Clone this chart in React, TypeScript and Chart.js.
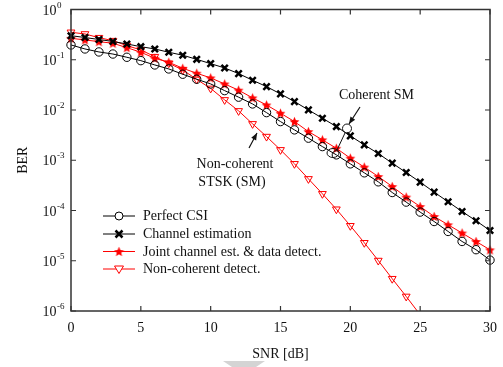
import React, { useEffect, useRef } from "react";
import { Chart, registerables } from "chart.js";

Chart.register(...registerables);

const snr = [0, 1, 2, 3, 4, 5, 6, 7, 8, 9, 10, 11, 12, 13, 14, 15, 16, 17, 18, 19, 20, 21, 22, 23, 24, 25, 26, 27, 28, 29, 30];

const perfectCSI = [0.197, 0.164, 0.143, 0.13, 0.112, 0.096, 0.0788, 0.0656, 0.0515, 0.041, 0.033, 0.0243, 0.018, 0.0132, 8.87e-3, 5.88e-3, 4.02e-3, 2.75e-3, 1.87e-3, 1.28e-3, 8.48e-4, 5.62e-4, 3.72e-4, 2.28e-4, 1.47e-4, 9.3e-5, 6.04e-5, 3.83e-5, 2.42e-5, 1.66e-5, 1.03e-5];

const channelEst = [0.301, 0.277, 0.253, 0.231, 0.206, 0.182, 0.164, 0.141, 0.123, 0.102, 0.0836, 0.0687, 0.053, 0.0391, 0.0292, 0.0209, 0.0147, 0.01004, 6.87e-3, 4.68e-3, 3.06e-3, 2.02e-3, 1.36e-3, 8.75e-4, 5.69e-4, 3.67e-4, 2.32e-4, 1.49e-4, 9.55e-5, 6.24e-5, 4.0e-5];

const jointEst = [0.267, 0.248, 0.229, 0.213, 0.174, 0.141, 0.107, 0.0892, 0.0677, 0.0539, 0.0435, 0.033, 0.0248, 0.0174, 0.0126, 8.63e-3, 5.88e-3, 3.72e-3, 2.55e-3, 1.73e-3, 1.1e-3, 7.3e-4, 4.74e-4, 3.0e-4, 1.85e-4, 1.2e-4, 7.6e-5, 5.2e-5, 3.56e-5, 2.42e-5, 1.65e-5];

const nonCoherent = [0.352, 0.326, 0.275, 0.24, 0.191, 0.157, 0.115, 0.0852, 0.0627, 0.0406, 0.0269, 0.0159, 9.6e-3, 5.3e-3, 2.96e-3, 1.61e-3, 8.5e-4, 4.26e-4, 2.15e-4, 1.06e-4, 4.97e-5, 2.28e-5, 1.01e-5, 4.39e-6, 1.95e-6, 8.4e-7];

const seriesNames = ["Perfect CSI", "Channel estimation", "Joint channel est. & data detect.", "Non-coherent detect."];

const xTicks = [0, 5, 10, 15, 20, 25, 30];
const yTicks = [1, 1e-1, 1e-2, 1e-3, 1e-4, 1e-5, 1e-6];
const yTickExps = ["0", "-1", "-2", "-3", "-4", "-5", "-6"];

const xTitle = "SNR [dB]";
const yTitle = "BER";
const coherentLabel = "Coherent SM";
const nonCoherentLabel = ["Non-coherent", "STSK (SM)"];

const RED = "#ff0000";
const BLACK = "#000000";
const FONT = '"Liberation Serif", "Times New Roman", serif';

function makeStar(size: number, color: string) {
  const c = document.createElement("canvas");
  c.width = size;
  c.height = size;
  const ctx = c.getContext("2d")!;
  const cx = size / 2;
  const cy = size / 2 + 0.5;
  const R = size / 2 - 0.3;
  const r = R * 0.45;
  ctx.beginPath();
  for (let i = 0; i < 10; i++) {
    const ang = -Math.PI / 2 + (i * Math.PI) / 5;
    const rad = i % 2 === 0 ? R : r;
    const px = cx + rad * Math.cos(ang);
    const py = cy + rad * Math.sin(ang);
    if (i === 0) ctx.moveTo(px, py);
    else ctx.lineTo(px, py);
  }
  ctx.closePath();
  ctx.fillStyle = color;
  ctx.fill();
  return c;
}

function arrow(ctx: CanvasRenderingContext2D, x1: number, y1: number, x2: number, y2: number) {
  ctx.beginPath();
  ctx.moveTo(x1, y1);
  ctx.lineTo(x2, y2);
  ctx.stroke();
  const a = Math.atan2(y2 - y1, x2 - x1);
  const L = 7;
  const W = 2.8;
  ctx.beginPath();
  ctx.moveTo(x2, y2);
  ctx.lineTo(x2 - L * Math.cos(a) + W * Math.sin(a), y2 - L * Math.sin(a) - W * Math.cos(a));
  ctx.lineTo(x2 - L * Math.cos(a) - W * Math.sin(a), y2 - L * Math.sin(a) + W * Math.cos(a));
  ctx.closePath();
  ctx.fill();
}

export default function App() {
  const ref = useRef<HTMLCanvasElement | null>(null);

  useEffect(() => {
    document.body.style.margin = "0";
    const canvas = ref.current!;
    const star = makeStar(11, RED);

    const toPts = (arr: number[]) => arr.map((v, i) => ({ x: snr[i], y: v }));

    const overlay = {
      id: "overlay",
      afterDraw(chart: any) {
        const ctx: CanvasRenderingContext2D = chart.ctx;
        const xs = chart.scales.x;
        const ys = chart.scales.y;
        const { left, right, top, bottom } = chart.chartArea;
        ctx.save();

        // frame
        ctx.strokeStyle = "#333";
        ctx.lineWidth = 1.5;
        ctx.strokeRect(left, top, right - left, bottom - top);

        // ticks
        ctx.lineWidth = 1.2;
        ctx.beginPath();
        xTicks.forEach((t) => {
          const px = xs.getPixelForValue(t);
          ctx.moveTo(px, bottom);
          ctx.lineTo(px, bottom - 5);
          ctx.moveTo(px, top);
          ctx.lineTo(px, top + 5);
        });
        yTicks.forEach((t) => {
          const py = ys.getPixelForValue(t);
          ctx.moveTo(left, py);
          ctx.lineTo(left + 5, py);
          ctx.moveTo(right, py);
          ctx.lineTo(right - 5, py);
        });
        ctx.stroke();

        // x tick labels
        ctx.fillStyle = "#111";
        ctx.font = `14px ${FONT}`;
        ctx.textAlign = "center";
        ctx.textBaseline = "alphabetic";
        xTicks.forEach((t) => {
          ctx.fillText(String(t), xs.getPixelForValue(t), 332);
        });

        // y tick labels
        ctx.textAlign = "left";
        yTicks.forEach((t, i) => {
          const py = ys.getPixelForValue(t);
          ctx.font = `14px ${FONT}`;
          ctx.textBaseline = "alphabetic";
          ctx.fillText("10", 42.5, py + 5);
          const w = ctx.measureText("10").width;
          ctx.font = `9px ${FONT}`;
          ctx.fillText(yTickExps[i], 42.5 + w + 0.5, py - 2);
        });

        // axis titles
        ctx.font = `14px ${FONT}`;
        ctx.textAlign = "center";
        ctx.fillText(xTitle, (left + right) / 2, 358);
        ctx.save();
        ctx.translate(27, (top + bottom) / 2);
        ctx.rotate(-Math.PI / 2);
        ctx.textBaseline = "alphabetic";
        ctx.fillText(yTitle, 0, 0);
        ctx.restore();

        // legend
        const rows = [216, 234, 251.5, 269];
        const colors = [BLACK, BLACK, RED, RED];
        rows.forEach((ry, i) => {
          ctx.strokeStyle = colors[i];
          ctx.lineWidth = 1;
          ctx.beginPath();
          ctx.moveTo(103, ry);
          ctx.lineTo(135, ry);
          ctx.stroke();
          const mx = 119;
          if (i === 0) {
            ctx.beginPath();
            ctx.arc(mx, ry, 4, 0, Math.PI * 2);
            ctx.fillStyle = "#fff";
            ctx.fill();
            ctx.stroke();
          } else if (i === 1) {
            ctx.lineWidth = 2.5;
            ctx.beginPath();
            ctx.moveTo(mx - 3.5, ry - 3.5);
            ctx.lineTo(mx + 3.5, ry + 3.5);
            ctx.moveTo(mx + 3.5, ry - 3.5);
            ctx.lineTo(mx - 3.5, ry + 3.5);
            ctx.stroke();
          } else if (i === 2) {
            ctx.drawImage(star, mx - 5.5, ry - 5.5);
          } else {
            ctx.beginPath();
            ctx.moveTo(mx - 4.5, ry - 3);
            ctx.lineTo(mx + 4.5, ry - 3);
            ctx.lineTo(mx, ry + 4.5);
            ctx.closePath();
            ctx.fillStyle = "#fff";
            ctx.fill();
            ctx.stroke();
          }
          ctx.fillStyle = "#111";
          ctx.font = `14px ${FONT}`;
          ctx.textAlign = "left";
          ctx.textBaseline = "middle";
          ctx.fillText(seriesNames[i], 143, ry + 0.5);
        });

        // annotations
        ctx.fillStyle = "#111";
        ctx.strokeStyle = "#111";
        ctx.lineWidth = 1.2;
        ctx.textBaseline = "alphabetic";
        ctx.textAlign = "left";
        ctx.fillText(coherentLabel, 339, 99);
        arrow(ctx, 360, 107, 349, 124);
        ctx.lineWidth = 1;
        ctx.beginPath();
        ctx.ellipse(347, 128.5, 4.5, 4.5, 0, 0, Math.PI * 2);
        ctx.stroke();
        ctx.beginPath();
        ctx.moveTo(345, 133);
        ctx.lineTo(337, 150);
        ctx.stroke();
        ctx.beginPath();
        ctx.ellipse(333, 153, 6, 4.5, 0, 0, Math.PI * 2);
        ctx.stroke();

        ctx.textAlign = "center";
        ctx.fillText(nonCoherentLabel[0], 235, 168);
        ctx.fillText(nonCoherentLabel[1], 232, 186);
        ctx.lineWidth = 1.2;
        arrow(ctx, 249, 148, 257, 133);

        // grey artifact under axis title
        ctx.fillStyle = "#d4d4d4";
        ctx.beginPath();
        ctx.moveTo(223, 361);
        ctx.lineTo(265, 361);
        ctx.lineTo(256, 367);
        ctx.lineTo(232, 367);
        ctx.closePath();
        ctx.fill();

        ctx.restore();
      },
    };

    const chart = new Chart(canvas, {
      type: "line",
      data: {
        datasets: [
          {
            label: seriesNames[0],
            data: toPts(perfectCSI),
            borderColor: BLACK,
            borderWidth: 1,
            pointStyle: "circle",
            pointRadius: 4.2,
            pointBorderColor: BLACK,
            pointBackgroundColor: "rgba(0,0,0,0)",
            pointBorderWidth: 1,
            clip: false,
          },
          {
            label: seriesNames[1],
            data: toPts(channelEst),
            borderColor: BLACK,
            borderWidth: 1,
            pointStyle: "crossRot",
            pointRadius: 4.5,
            pointBorderColor: BLACK,
            pointBorderWidth: 2.5,
            clip: false,
          },
          {
            label: seriesNames[2],
            data: toPts(jointEst),
            borderColor: RED,
            borderWidth: 1,
            pointStyle: star as any,
            pointRadius: 5,
            clip: false,
          },
          {
            label: seriesNames[3],
            data: toPts(nonCoherent),
            borderColor: RED,
            borderWidth: 1,
            pointStyle: "triangle",
            rotation: 180,
            pointRadius: 4.5,
            pointBorderColor: RED,
            pointBackgroundColor: "rgba(0,0,0,0)",
            pointBorderWidth: 1,
            clip: { left: 10, right: 10, top: 10, bottom: 0 } as any,
          } as any,
        ],
      },
      options: {
        animation: false,
        responsive: false,
        events: [],
        layout: { padding: { left: 71, right: 13, top: 9.5, bottom: 56 } },
        elements: { line: { tension: 0 } },
        scales: {
          x: { type: "linear", min: 0, max: 30, display: false },
          y: { type: "logarithmic", min: 1e-6, max: 1, display: false },
        },
        plugins: {
          legend: { display: false },
          tooltip: { enabled: false },
        },
      },
      plugins: [overlay],
    });

    return () => chart.destroy();
  }, []);

  return (
    <div style={{ position: "absolute", left: 0, top: 0, width: 503, height: 367, background: "#fff" }}>
      <canvas ref={ref} width={503} height={367} style={{ display: "block" }} />
    </div>
  );
}
